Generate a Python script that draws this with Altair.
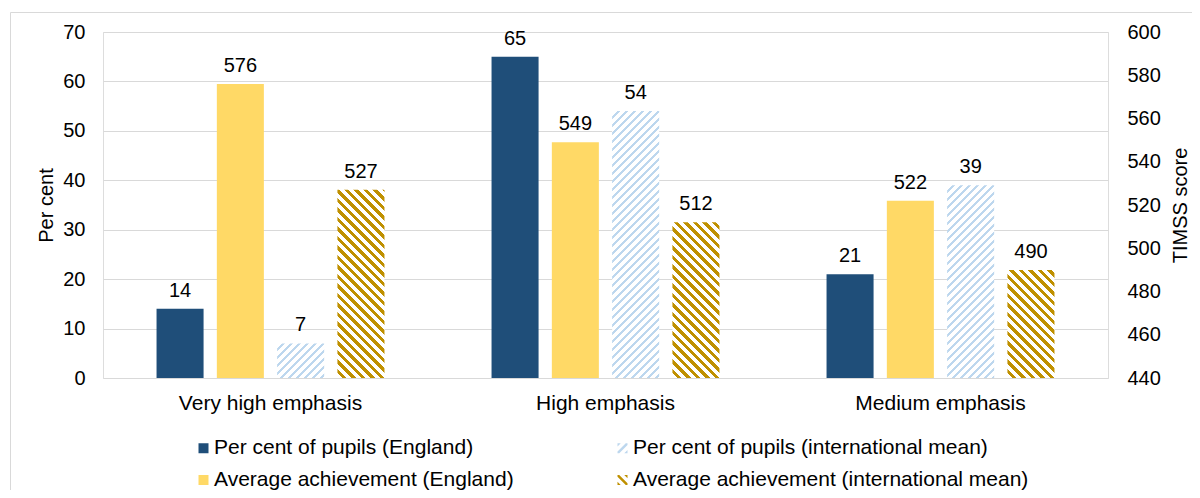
import altair as alt
import pandas as pd

# ---------------- data ----------------
categories = ["Very high emphasis", "High emphasis", "Medium emphasis"]
pct_england = [14, 65, 21]
score_england = [576, 549, 522]
pct_intl = [7, 54, 39]
score_intl = [527, 512, 490]

S_PCT_E = "Per cent of pupils (England)"
S_SCORE_E = "Average achievement (England)"
S_PCT_I = "Per cent of pupils (international mean)"
S_SCORE_I = "Average achievement (international mean)"

offset_order = [S_PCT_E, S_SCORE_E, S_PCT_I, S_SCORE_I]
# legend grid is filled column by column
legend_order = [S_PCT_E, S_SCORE_E, S_PCT_I, S_SCORE_I]

pct_ticks = [0, 10, 20, 30, 40, 50, 60, 70]
score_ticks = [440, 460, 480, 500, 520, 540, 560, 580, 600]

rows = []
for s, vals in [(S_PCT_E, pct_england), (S_SCORE_E, score_england),
                (S_PCT_I, pct_intl), (S_SCORE_I, score_intl)]:
    for c, v in zip(categories, vals):
        rows.append({"category": c, "series": s, "value": v})
df = pd.DataFrame(rows)

# ---------------- style ----------------
FONT = "Liberation Sans"
DARK_BLUE = "#1F4E79"
YELLOW = "#FFD966"
LIGHT_BLUE = "#BDD7EE"
GOLD = "#BF9000"
GRID = "#D9D9D9"

W, H = 1005, 346
PAD_IN, PAD_OUT = 0.22, 0.888
band = W / len(categories)
step = band / (4 - PAD_IN + 2 * PAD_OUT)
BAR_W = step * (1 - PAD_IN)


def hatch(color, h, period, duty, direction):
    """Diagonal stripe fill built from a linear gradient (bbox units)."""
    w = BAR_W
    h = max(h, 1.0)
    L = w + h
    k = L * w / (w * w + h * h)
    if direction == "up":  # '/'
        x1, y1, x2, y2 = 0, 0, k, k * h / w
    else:  # '\'
        x1, y1, x2, y2 = 0, 1, k, 1 - k * h / w
    stops = [alt.GradientStop(offset=0, color="white")]
    i = 0
    while True:
        a = (i * period + period * (1 - duty)) / L
        b = ((i + 1) * period) / L
        if a >= 1:
            break
        b = min(b, 1.0)
        stops += [alt.GradientStop(offset=a, color="white"),
                  alt.GradientStop(offset=a, color=color),
                  alt.GradientStop(offset=b, color=color),
                  alt.GradientStop(offset=b, color="white")]
        i += 1
    stops.append(alt.GradientStop(offset=1, color="white"))
    return alt.LinearGradient(gradient="linear", stops=stops,
                              x1=x1, y1=y1, x2=x2, y2=y2)


x_enc = alt.X("category:N", sort=categories,
              scale=alt.Scale(paddingInner=0, paddingOuter=0),
              axis=alt.Axis(title=None, domain=False, ticks=False, grid=False,
                            labelAngle=0, labelFontSize=21, labelPadding=14,
                            labelColor="black", labelFont=FONT, labelLimit=500))
xo_enc = alt.XOffset("series:N",
                     scale=alt.Scale(domain=offset_order, paddingInner=PAD_IN,
                                     paddingOuter=PAD_OUT))

y_pct = alt.Y("value:Q",
              scale=alt.Scale(domain=[0, 70], nice=False, zero=True),
              axis=alt.Axis(title="Per cent", orient="left", values=pct_ticks,
                            domain=False, ticks=False, tickSize=0,
                            labelPadding=18, labelFontSize=20, labelColor="black",
                            labelFont=FONT, grid=True, gridColor=GRID,
                            titleFontSize=20, titleFontWeight="normal",
                            titleColor="black", titleFont=FONT, titleAngle=270,
                            titleX=-57, titleY=H / 2, titleAlign="center",
                            titleBaseline="middle"))
y_score = alt.Y("value:Q",
                scale=alt.Scale(domain=[440, 600], nice=False, zero=False),
                axis=alt.Axis(title="TIMSS score", orient="right", values=score_ticks,
                              domain=False, ticks=False, tickSize=0,
                              labelPadding=19, labelFontSize=20, labelColor="black",
                              labelFont=FONT, grid=False,
                              titleFontSize=20, titleFontWeight="normal",
                              titleColor="black", titleFont=FONT, titleAngle=270,
                              titleX=72, titleY=H / 2, titleAlign="center",
                              titleBaseline="middle"))

base = alt.Chart(df)

# ---- percent group (left axis) ----
pct_layers = [
    base.mark_bar(fill=DARK_BLUE, strokeWidth=0)
    .transform_filter(alt.datum.series == S_PCT_E)
    .encode(x=x_enc, xOffset=xo_enc, y=y_pct)
]
for c, v in zip(categories, pct_intl):
    pct_layers.append(
        base.mark_bar(fill=hatch(LIGHT_BLUE, v / 70 * H, 8.0, 0.38, "up"), strokeWidth=0)
        .transform_filter(f"datum.series === '{S_PCT_I}' && datum.category === '{c}'")
        .encode(x=x_enc, xOffset=xo_enc, y=y_pct)
    )
pct_layers.append(
    base.mark_text(dy=-12, baseline="alphabetic", fontSize=20, font=FONT, color="black")
    .transform_filter(f"datum.series === '{S_PCT_E}' || datum.series === '{S_PCT_I}'")
    .encode(x=x_enc, xOffset=xo_enc, y=y_pct, text=alt.Text("value:Q", format="d"))
)
pct_group = alt.layer(*pct_layers)

# ---- score group (right axis) ----
score_layers = [
    base.mark_bar(fill=YELLOW, strokeWidth=0)
    .transform_filter(alt.datum.series == S_SCORE_E)
    .encode(x=x_enc, xOffset=xo_enc, y=y_score, y2=alt.datum(440))
]
for c, v in zip(categories, score_intl):
    score_layers.append(
        base.mark_bar(fill=hatch(GOLD, (v - 440) / 160 * H, 9.5, 0.5, "down"), strokeWidth=0)
        .transform_filter(f"datum.series === '{S_SCORE_I}' && datum.category === '{c}'")
        .encode(x=x_enc, xOffset=xo_enc, y=y_score, y2=alt.datum(440))
    )
score_layers.append(
    base.mark_text(dy=-12, baseline="alphabetic", fontSize=20, font=FONT, color="black")
    .transform_filter(f"datum.series === '{S_SCORE_E}' || datum.series === '{S_SCORE_I}'")
    .encode(x=x_enc, xOffset=xo_enc, y=y_score, text=alt.Text("value:Q", format="d"))
)
score_group = alt.layer(*score_layers)

# ---- legend (shape paths emulate the hatching) ----
P_UP = ("M-1,0.65L0.65,-1L1,-1L1,-0.65L-0.65,1L-1,1Z"
        "M-1,-1L-0.35,-1L-1,-0.35Z M1,1L0.35,1L1,0.35Z")
P_DOWN = ("M1,0.65L-0.65,-1L-1,-1L-1,-0.65L0.65,1L1,1Z"
          "M1,-1L0.35,-1L1,-0.35Z M-1,1L-0.35,1L-1,0.35Z")

leg = alt.Legend(title=None, orient="none", legendX=90, legendY=405.5, columns=2,
                 columnPadding=98, rowPadding=10, padding=0,
                 labelFontSize=21, labelFont=FONT, labelColor="black",
                 labelLimit=1000, labelOffset=0, symbolSize=100,
                 symbolStrokeWidth=0, symbolOpacity=1)
legend_layer = (
    base.mark_point(filled=True, size=100, strokeWidth=0, opacity=1)
    .transform_filter("false")
    .encode(
        color=alt.Color("series:N",
                        scale=alt.Scale(domain=legend_order,
                                        range=[DARK_BLUE, YELLOW, LIGHT_BLUE, GOLD]),
                        legend=leg),
        shape=alt.Shape("series:N",
                        scale=alt.Scale(domain=legend_order,
                                        range=["square", "square", P_UP, P_DOWN]),
                        legend=leg),
    )
)

# ---- light outer frame of the original chart ----
frame_df = pd.DataFrame({"k": [0]})
frame = alt.layer(
    alt.Chart(frame_df).mark_rule(color=GRID, strokeWidth=1)
    .encode(x=alt.value(-92.5), y=alt.value(-19.5), y2=alt.value(470)),
    alt.Chart(frame_df).mark_rule(color=GRID, strokeWidth=1)
    .encode(x=alt.value(-92.5), x2=alt.value(1100), y=alt.value(-19.5)),
)

chart = (
    alt.layer(frame, pct_group, score_group, legend_layer)
    .resolve_scale(y="independent")
    .properties(width=W, height=H,
                autosize=alt.AutoSizeParams(type="none"),
                padding={"left": 95, "top": 24, "right": 84, "bottom": 112})
    .configure_view(stroke="transparent")
    .configure(font=FONT)
)

chart.save("out.html", embed_options={"renderer": "svg", "actions": False})
